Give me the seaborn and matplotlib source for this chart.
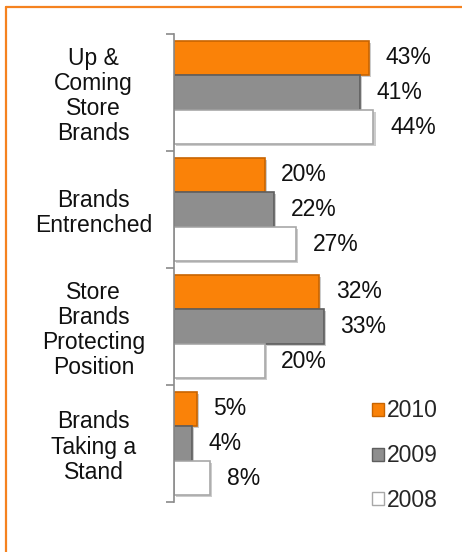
import matplotlib
matplotlib.use("Agg")
import matplotlib.pyplot as plt
import matplotlib.patheffects as pe
from matplotlib.lines import Line2D
from matplotlib.patches import Patch
import seaborn as sns
import pandas as pd

# Survey shares per brand segment and year
categories = ["Up &\nComing\nStore\nBrands", "Brands\nEntrenched",
              "Store\nBrands\nProtecting\nPosition", "Brands\nTaking a\nStand"]
years = ["2010", "2009", "2008"]
values_2010 = [43, 20, 32, 5]
values_2009 = [41, 22, 33, 4]
values_2008 = [44, 27, 20, 8]

rows = []
for year, vals in zip(years, [values_2010, values_2009, values_2008]):
    for cat, v in zip(categories, vals):
        rows.append({"segment": cat, "year": year, "share": v})
df = pd.DataFrame(rows)

sns.set_theme(style="white")
plt.rcParams["font.family"] = ["Liberation Sans", "DejaVu Sans"]

FS = 16.5
fill = {"2010": "#FA8208", "2009": "#8E8E8E", "2008": "#FFFFFF"}
edge = {"2010": "#C86400", "2009": "#5E5E5E", "2008": "#A8A8A8"}

fig = plt.figure(figsize=(4.62, 5.52), dpi=100)
ax = fig.add_axes([174 / 462, 1 - 502 / 552, 272 / 462, 468 / 552])

sns.barplot(data=df, x="share", y="segment", hue="year", hue_order=years,
            order=categories, orient="h", palette=fill, saturation=1,
            width=0.885, ax=ax, legend=False)

shadow = [pe.SimplePatchShadow(offset=(1.5, -1.5), shadow_rgbFace="#9A9A9A", alpha=0.5),
          pe.Normal()]
for cont, year in zip(ax.containers, years):
    for bar in cont:
        bar.set_edgecolor(edge[year])
        bar.set_linewidth(1.2)
        bar.set_path_effects(shadow)
    ax.bar_label(cont, fmt="%d%%", padding=12, fontsize=FS, color="#111111")

ax.set_xlim(0, 60)
ax.set_ylim(3.5, -0.5)
ax.set_xlabel("")
ax.set_ylabel("")
ax.set_xticks([])

# category labels centred left of the axis, boundary ticks between groups
ax.set_yticks(range(len(categories)))
ax.set_yticklabels(categories, fontsize=FS, linespacing=1.12, color="#111111")
for lab in ax.get_yticklabels():
    lab.set_ha("center")
    lab.set_multialignment("center")
ax.tick_params(axis="y", which="major", length=0, pad=58)
ax.set_yticks([-0.5, 0.5, 1.5, 2.5, 3.5], minor=True)
ax.tick_params(axis="y", which="minor", length=6, width=1.2, color="#8A8A8A", left=True)

for side in ["top", "right", "bottom"]:
    ax.spines[side].set_visible(False)
ax.spines["left"].set_color("#8A8A8A")
ax.spines["left"].set_linewidth(1.2)

handles = [Patch(facecolor=fill[y], edgecolor=edge[y], linewidth=1.0) for y in years]
ax.legend(handles, years, loc="upper left", bbox_to_anchor=(361 / 462, 1 - 388 / 552),
          bbox_transform=fig.transFigure, frameon=False, fontsize=FS,
          handlelength=0.5, handleheight=0.5, handletextpad=0.15,
          labelspacing=0.95, borderpad=0)

# orange frame lines along the left and top edges
orange = "#F5821F"
fig.add_artist(Line2D([6 / 462, 6 / 462], [0, 1 - 7 / 552], transform=fig.transFigure,
                      color=orange, lw=1.6))
fig.add_artist(Line2D([6 / 462, 1], [1 - 7 / 552, 1 - 7 / 552], transform=fig.transFigure,
                      color=orange, lw=1.6))

fig.savefig("out.png", dpi=100)
